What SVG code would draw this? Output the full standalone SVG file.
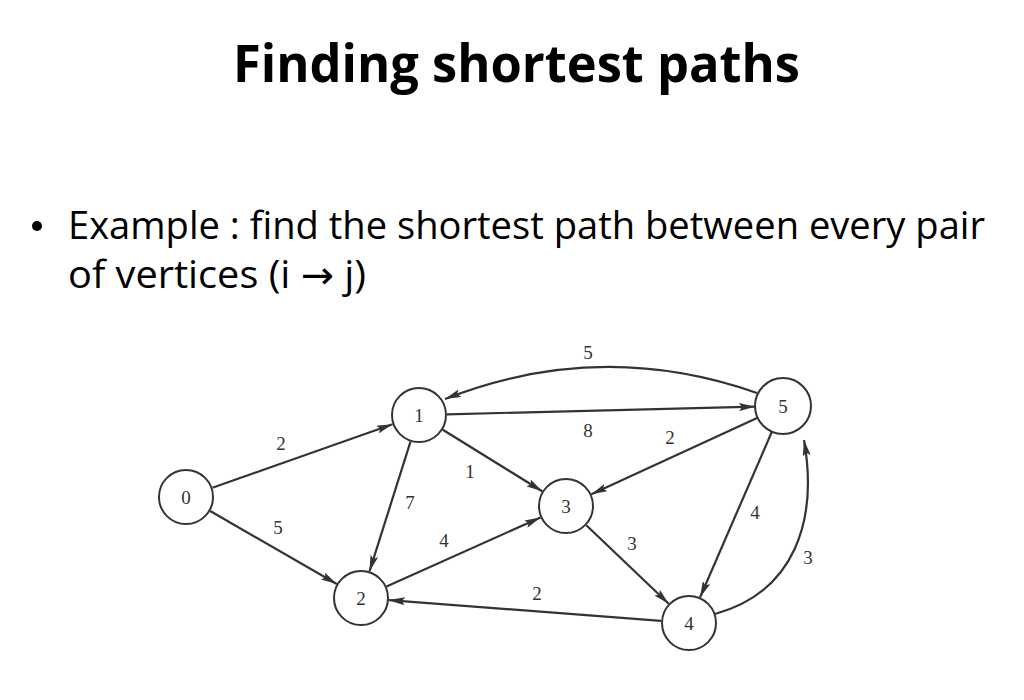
<svg xmlns="http://www.w3.org/2000/svg" width="1024" height="700" viewBox="0 0 1024 700">
<style>
.title{font-family:"Open Sans","Liberation Sans",sans-serif;font-weight:700;font-size:52px;fill:#000}
.body{font-family:"Open Sans","Liberation Sans",sans-serif;font-size:38px;fill:#000}
.arr{font-family:"DejaVu Sans",sans-serif}
.node circle{fill:#fff;stroke:#333;stroke-width:2}
.node text{font-family:"Liberation Serif",serif;font-size:19px;fill:#333;text-anchor:middle}
.edge{fill:none;stroke:#333;stroke-width:2.2;marker-end:url(#ah)}
.lbl{font-family:"Liberation Serif",serif;font-size:19px;fill:#333;text-anchor:middle}
</style>
<defs>
<marker id="ah" viewBox="0 0 16 8" refX="16" refY="4" markerWidth="16" markerHeight="8" markerUnits="userSpaceOnUse" orient="auto">
<path d="M0,0 L16,4 L0,8 L3,4 Z" fill="#333"/>
</marker>
</defs>
<rect width="1024" height="700" fill="#fff"/>
<text class="title" x="233" y="82" textLength="567" lengthAdjust="spacingAndGlyphs">Finding shortest paths</text>
<circle cx="37" cy="226" r="5" fill="#000"/>
<text class="body" x="68" y="239" textLength="917" lengthAdjust="spacingAndGlyphs">Example : find the shortest path between every pair</text>
<text class="body" x="68" y="288" textLength="298" lengthAdjust="spacingAndGlyphs">of vertices (i <tspan class="arr">→</tspan> j)</text>
<g id="connectors">
<path class="edge" d="M212.4,487.7 L392.6,424.3"/>
<path class="edge" d="M210.2,511 L336.8,584"/>
<path class="edge" d="M410.5,441.7 L369.5,571.3"/>
<path class="edge" d="M442.8,429.7 L542.2,491.3"/>
<path class="edge" d="M447,414.3 L755,406.7"/>
<path class="edge" d="M386.5,586.5 L540.5,517.5"/>
<path class="edge" d="M757.6,417.7 L591.4,494.3"/>
<path class="edge" d="M586.3,525.3 L668.7,603.7"/>
<path class="edge" d="M771.9,431.7 L700.1,597.3"/>
<path class="edge" d="M661.1,620.9 L388.9,600.1"/>
<path class="edge" d="M757,393 Q600,338 445,399"/>
<path class="edge" d="M715,614 C795,592 818,520 804,440"/>
<text class="lbl" x="281" y="450">2</text>
<text class="lbl" x="278" y="534">5</text>
<text class="lbl" x="410" y="509">7</text>
<text class="lbl" x="444" y="547">4</text>
<text class="lbl" x="470" y="478">1</text>
<text class="lbl" x="588" y="437">8</text>
<text class="lbl" x="670" y="444">2</text>
<text class="lbl" x="588" y="359">5</text>
<text class="lbl" x="632" y="550">3</text>
<text class="lbl" x="755" y="519">4</text>
<text class="lbl" x="808" y="564">3</text>
<text class="lbl" x="537" y="600">2</text>
</g>
<g id="node0" class="node"><circle cx="186" cy="497" r="27"/><text x="186" y="504">0</text></g>
<g id="node1" class="node"><circle cx="419" cy="415" r="27"/><text x="419" y="422">1</text></g>
<g id="node2" class="node"><circle cx="361" cy="598" r="27"/><text x="361" y="605">2</text></g>
<g id="node3" class="node"><circle cx="566" cy="506" r="27"/><text x="566" y="513">3</text></g>
<g id="node4" class="node"><circle cx="689" cy="623" r="27"/><text x="689" y="630">4</text></g>
<g id="node5" class="node"><circle cx="783" cy="406" r="28"/><text x="783" y="413">5</text></g>
</svg>
